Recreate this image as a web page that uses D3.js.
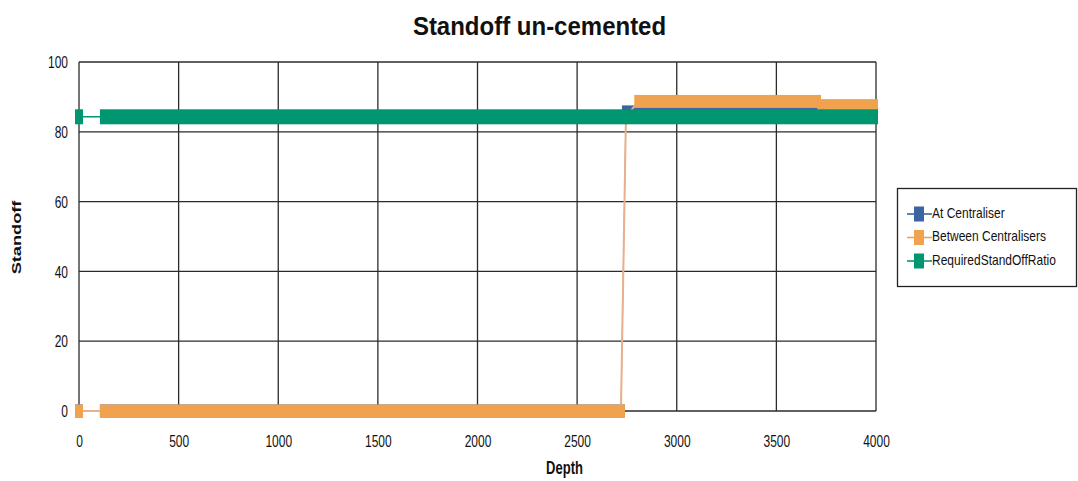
<!DOCTYPE html>
<html>
<head>
<meta charset="utf-8">
<script src="https://cdn.jsdelivr.net/npm/d3@7"></script>
<style>
  html, body { margin: 0; padding: 0; background: #fff; }
  svg { display: block; font-family: "Liberation Sans", Arial, sans-serif; }
</style>
</head>
<body>
<svg id="chart" width="1078" height="481"></svg>
<script>
// Standoff along the string: each run is a stretch of closely spaced stations
// that share one value (depth from/to in m, standoff in %).
const seriesNames = ["At Centraliser", "Between Centralisers", "RequiredStandOffRatio"];
const seriesColors = ["#3b64a0", "#f1a24f", "#00966f"];

const atCentraliserFrom  = [0,    125,  2745];
const atCentraliserTo    = [0,    2720, 3990];
const atCentraliserValue = [0,    0,    85.7];

const betweenFrom  = [0, 125,  2745, 2807, 3725];
const betweenTo    = [0, 2720, 2745, 3704, 3990];
const betweenValue = [0, 0,    84.3, 88.7, 87.5];

const requiredFrom  = [0,    125];
const requiredTo    = [0,    3990];
const requiredValue = [84.3, 84.3];

const xTicks = [0, 500, 1000, 1500, 2000, 2500, 3000, 3500, 4000];
const yTicks = [0, 20, 40, 60, 80, 100];

const svg = d3.select("#chart");
const plot = { left: 79, right: 876, top: 62, bottom: 411 };
const x = d3.scaleLinear().domain([0, 4000]).range([plot.left, plot.right]);
const y = d3.scaleLinear().domain([0, 100]).range([plot.bottom, plot.top]);
const vStretch = 1.4;
const markW = 8;

// title
svg.append("text")
  .attr("transform", "translate(539.5,35) scale(1,1.08)")
  .attr("text-anchor", "middle")
  .attr("font-size", 24).attr("font-weight", "bold")
  .attr("fill", "#111")
  .text("Standoff un-cemented");

// grid
const grid = svg.append("g").attr("stroke", "#2b2b2b").attr("stroke-width", 1.3);
grid.selectAll("line.v").data(xTicks).join("line")
  .attr("x1", d => x(d)).attr("x2", d => x(d))
  .attr("y1", plot.top).attr("y2", plot.bottom);
grid.selectAll("line.h").data(yTicks).join("line")
  .attr("x1", plot.left).attr("x2", plot.right)
  .attr("y1", d => y(d)).attr("y2", d => y(d));

// axes (labels only, tall narrow lettering)
const xAxis = d3.axisBottom(x).tickValues(xTicks).tickFormat(d3.format("d")).tickSize(0).tickPadding(0);
const gx = svg.append("g").attr("transform", `translate(0,${plot.bottom})`).call(xAxis);
gx.select(".domain").remove();
gx.selectAll(".tick text")
  .attr("y", 0).attr("dy", null)
  .attr("transform", `translate(0,30) scale(1,${vStretch})`)
  .attr("font-size", 12).attr("font-family", "Liberation Sans, Arial, sans-serif")
  .attr("fill", "#111").attr("dominant-baseline", "central");

const yAxis = d3.axisLeft(y).tickValues(yTicks).tickFormat(d3.format("d")).tickSize(0).tickPadding(0);
const gy = svg.append("g").attr("transform", `translate(${plot.left},0)`).call(yAxis);
gy.select(".domain").remove();
gy.selectAll(".tick text")
  .attr("x", 0).attr("dy", null)
  .attr("transform", `translate(-11,0) scale(1,${vStretch})`)
  .attr("font-size", 12).attr("font-family", "Liberation Sans, Arial, sans-serif")
  .attr("fill", "#111").attr("dominant-baseline", "central");

// axis titles
svg.append("text")
  .attr("transform", `translate(564.5,468) scale(1,${vStretch})`)
  .attr("text-anchor", "middle").attr("dominant-baseline", "central")
  .attr("font-size", 13).attr("font-weight", "bold").attr("fill", "#111")
  .text("Depth");
svg.append("text")
  .attr("transform", `translate(16,237.5) rotate(-90) scale(${vStretch},1)`)
  .attr("text-anchor", "middle").attr("dominant-baseline", "central")
  .attr("font-size", 13).attr("font-weight", "bold").attr("fill", "#111")
  .text("Standoff");

// series: thin connecting line through the stations, then the run of markers
function drawSeries(from, to, value, color, lineColor, lineW, markH) {
  const runs = from.map((f, i) => ({ from: f, to: to[i], value: value[i] }));
  const pts = runs.flatMap(r => r.from === r.to ? [[r.from, r.value]] : [[r.from, r.value], [r.to, r.value]]);
  const g = svg.append("g");
  g.append("path")
    .datum(pts)
    .attr("fill", "none").attr("stroke", lineColor).attr("stroke-width", lineW)
    .attr("d", d3.line().x(d => x(d[0])).y(d => y(d[1])));
  g.selectAll("rect").data(runs).join("rect")
    .attr("x", d => x(d.from) - markW / 2)
    .attr("width", d => x(d.to) - x(d.from) + markW)
    .attr("y", d => y(d.value) - markH / 2)
    .attr("height", markH)
    .attr("fill", color);
}
drawSeries(atCentraliserFrom, atCentraliserTo, atCentraliserValue, seriesColors[0], "#a08a80", 1, 13);
drawSeries(betweenFrom, betweenTo, betweenValue, seriesColors[1], "#e9b08a", 2, 13);
drawSeries(requiredFrom, requiredTo, requiredValue, seriesColors[2], seriesColors[2], 1.6, 15);

// legend
const legend = svg.append("g");
legend.append("rect")
  .attr("x", 897.5).attr("y", 188.5).attr("width", 179).attr("height", 98)
  .attr("fill", "#fff").attr("stroke", "#222").attr("stroke-width", 1.3);
const rowY = [214, 237.5, 261];
seriesNames.forEach((name, i) => {
  const row = legend.append("g");
  row.append("line")
    .attr("x1", 907).attr("x2", 932).attr("y1", rowY[i]).attr("y2", rowY[i])
    .attr("stroke", seriesColors[i]).attr("stroke-width", 1.6);
  row.append("rect")
    .attr("x", 914).attr("y", rowY[i] - 7.5).attr("width", 10).attr("height", 15)
    .attr("fill", seriesColors[i]);
  row.append("text")
    .attr("transform", `translate(932,${rowY[i] - 1}) scale(1,1.2)`)
    .attr("dominant-baseline", "central")
    .attr("font-size", 12).attr("fill", "#111")
    .text(name);
});
</script>
</body>
</html>
